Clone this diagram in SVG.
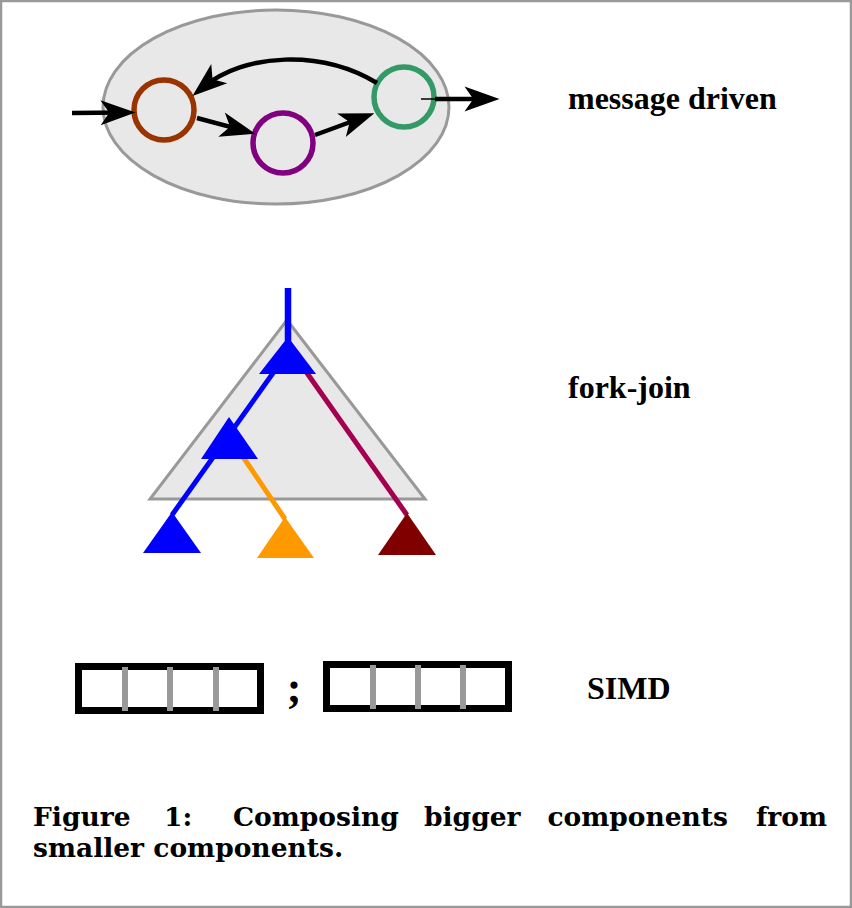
<svg xmlns="http://www.w3.org/2000/svg" width="852" height="908" viewBox="0 0 852 908">
<style>
.lbl{font-family:"Liberation Serif","Times New Roman",serif;font-weight:bold;font-size:32px;fill:#000}
.cap{font-family:"DejaVu Serif","Liberation Serif",serif;font-weight:bold;font-size:26.5px;fill:#000}
.arr{fill:none;stroke:#000;stroke-width:4.5}
.shade{fill:#e8e8e8;stroke:#999;stroke-width:3}
.simd{fill:#fff;stroke:#000;stroke-width:7}
.div{stroke:#999;stroke-width:6}
</style>
<defs>
<marker id="ah" markerUnits="userSpaceOnUse" markerWidth="40" markerHeight="30" viewBox="-20 -12 32 24" refX="0" refY="0" orient="auto" overflow="visible">
<path d="M10,0 L-18,-10 L-11,0 L-18,10 Z" fill="#000"/>
</marker>
</defs>
<rect x="1" y="1" width="850" height="906" fill="#fff" stroke="#999" stroke-width="2.5"/>

<g id="message-driven">
<ellipse cx="276" cy="107" rx="173" ry="97" class="shade"/>
<g id="node-brown"><circle cx="164" cy="110" r="30" fill="none" stroke="#993300" stroke-width="5.5"/></g>
<g id="node-purple"><circle cx="283" cy="143" r="30" fill="none" stroke="#800080" stroke-width="5.5"/></g>
<g id="node-green"><circle cx="404" cy="97" r="30" fill="none" stroke="#339966" stroke-width="5.5"/></g>
</g>

<g id="connectors">
<path class="arr" d="M72,113 L123,112.5" marker-end="url(#ah)"/>
<path class="arr" d="M197,118 L243.3,130.4" marker-end="url(#ah)"/>
<path class="arr" d="M315,135 L362.6,117.5" marker-end="url(#ah)"/>
<path class="arr" d="M377,83 C322,50 245,52 202,88" marker-end="url(#ah)"/>
<path d="M421,99 L437,99" stroke="#000" stroke-width="1.5" fill="none"/>
<path class="arr" d="M435,99 L487,99" marker-end="url(#ah)"/>
</g>

<g id="fork-join">
<polygon points="287,320 150,499 425,499" class="shade"/>
<line x1="288" y1="288" x2="288" y2="345" stroke="#0000ff" stroke-width="6.5"/>
<line x1="288" y1="352" x2="172" y2="515" stroke="#0000ff" stroke-width="5"/>
<line x1="235" y1="445" x2="285" y2="519" stroke="#ff9900" stroke-width="5"/>
<line x1="295" y1="356" x2="407" y2="515" stroke="#a50050" stroke-width="5"/>
<g id="tri-top"><polygon points="288,337 259,374 316,374" fill="#0000ff"/></g>
<g id="tri-mid"><polygon points="229,417 201,459 258,459" fill="#0000ff"/></g>
<g id="tri-left"><polygon points="172,512 143,553 201,553" fill="#0000ff"/></g>
<g id="tri-orange"><polygon points="285,517 257,558 314,558" fill="#ff9900"/></g>
<g id="tri-red"><polygon points="407,513 378,555 436,555" fill="#800000"/></g>
</g>

<g id="simd">
<g id="simd-1">
<rect x="78.5" y="666.5" width="182" height="44" class="simd"/>
<line x1="125" y1="667" x2="125" y2="711" class="div"/>
<line x1="170" y1="667" x2="170" y2="711" class="div"/>
<line x1="216" y1="667" x2="216" y2="711" class="div"/>
</g>
<text x="294" y="702" class="lbl" style="font-size:44px" text-anchor="middle">;</text>
<g id="simd-2">
<rect x="326.5" y="664.5" width="182" height="44" class="simd"/>
<line x1="373" y1="665" x2="373" y2="709" class="div"/>
<line x1="418" y1="665" x2="418" y2="709" class="div"/>
<line x1="463" y1="665" x2="463" y2="709" class="div"/>
</g>
</g>

<g id="labels">
<text x="568" y="109" class="lbl">message driven</text>
<text x="568" y="398" class="lbl">fork-join</text>
<text x="587" y="699" class="lbl">SIMD</text>
</g>

<g id="caption">
<text x="33" y="826" class="cap">Figure</text>
<text x="164" y="826" class="cap">1:</text>
<text x="233" y="826" class="cap">Composing</text>
<text x="424" y="826" class="cap">bigger</text>
<text x="728" y="826" class="cap" text-anchor="end">components</text>
<text x="827" y="826" class="cap" text-anchor="end">from</text>
<text x="33" y="857" class="cap">smaller components.</text>
</g>
</svg>
